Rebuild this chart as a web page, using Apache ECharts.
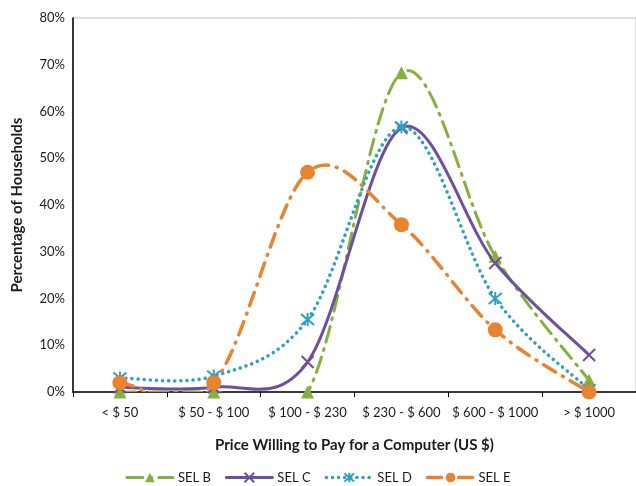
<!DOCTYPE html>
<html>
<head>
<meta charset="utf-8">
<script src="https://cdn.jsdelivr.net/npm/echarts@6/dist/echarts.min.js"></script>
<style>
  html, body { margin: 0; padding: 0; background: #ffffff; }
  #chart { width: 636px; height: 486px; }
</style>
</head>
<body>
<div id="chart"></div>
<script>
// Price brackets households would pay for a computer
const categories = ['< $ 50', '$ 50 - $ 100', '$ 100 - $ 230', '$ 230 - $ 600', '$ 600 - $ 1000', '> $ 1000'];

// Share of households (%) per socio-economic level
const selB = [0, 0, 0, 68.3, 29, 2.5];
const selC = [1, 1, 6.4, 56.5, 27.6, 7.9];
const selD = [3, 3.4, 15.5, 56.7, 20, 0.5];
const selE = [2, 2, 47, 35.8, 13.3, 0];

const yTicks = [0, 10, 20, 30, 40, 50, 60, 70, 80];

const FONT = 'Lato, "Open Sans", sans-serif';

const xMark = 'path://M0,0L10,10M10,0L0,10';
const starMark = 'path://M0,0L10,10M10,0L0,10M5,-1L5,11';

// Visual style of each level: colour, marker and stroke pattern
const styles = {
  'SEL B': { values: selB, color: '#86b03e', symbol: 'triangle', size: 13, width: 3, dash: [16, 7, 2, 7], hollow: false },
  'SEL C': { values: selC, color: '#6e4f9e', symbol: xMark, size: 12, width: 3, dash: null, hollow: true },
  'SEL D': { values: selD, color: '#2f9fc2', symbol: starMark, size: 13, width: 3.5, dash: [0.1, 6], hollow: true },
  'SEL E': { values: selE, color: '#e8832f', symbol: 'circle', size: 15, width: 3.5, dash: [14, 8, 1, 8], hollow: false }
};
const names = Object.keys(styles);

// Smoothed curve through the points (cubic Bezier, tangents from neighbours)
function curveRenderer(values, st) {
  return function (params, api) {
    if (params.dataIndex !== 0) return null;
    const pts = values.map((v, i) => api.coord([i, v]));
    const n = pts.length;
    let d = 'M' + pts[0][0] + ',' + pts[0][1];
    for (let i = 0; i < n - 1; i++) {
      const p0 = pts[Math.max(i - 1, 0)];
      const p1 = pts[i];
      const p2 = pts[i + 1];
      const p3 = pts[Math.min(i + 2, n - 1)];
      const c1x = p1[0] + (p2[0] - p0[0]) / 6;
      const c1y = p1[1] + (p2[1] - p0[1]) / 6;
      const c2x = p2[0] - (p3[0] - p1[0]) / 6;
      const c2y = p2[1] - (p3[1] - p1[1]) / 6;
      d += ' C' + c1x + ',' + c1y + ' ' + c2x + ',' + c2y + ' ' + p2[0] + ',' + p2[1];
    }
    return {
      type: 'path',
      shape: { pathData: d },
      style: {
        fill: null,
        stroke: st.color,
        lineWidth: st.width,
        lineDash: st.dash || null,
        lineCap: st.dash ? 'round' : 'butt',
        lineJoin: 'round'
      }
    };
  };
}

const curveSeries = names.map((name, k) => {
  const st = styles[name];
  return {
    name: name + ' curve',
    type: 'custom',
    coordinateSystem: 'cartesian2d',
    clip: true,
    data: st.values.map((v, i) => [i, v]),
    encode: { x: 0, y: 1 },
    renderItem: curveRenderer(st.values, st),
    silent: true,
    z: 2 + k
  };
});

const markerSeries = names.map((name, k) => {
  const st = styles[name];
  return {
    name: name,
    type: 'line',
    data: st.values,
    color: st.color,
    symbol: st.symbol,
    symbolSize: st.size,
    showSymbol: true,
    lineStyle: { color: st.color, width: st.width, type: st.dash || 'solid', cap: 'round', opacity: 0 },
    itemStyle: st.hollow
      ? { color: 'transparent', borderColor: st.color, borderWidth: 2 }
      : { color: st.color },
    z: 10 + k
  };
});

const chart = echarts.init(document.getElementById('chart'), null, { renderer: 'canvas' });

chart.setOption({
  animation: false,
  backgroundColor: '#ffffff',
  textStyle: { fontFamily: FONT },
  grid: {
    left: 73, top: 18, width: 567, height: 374,
    show: true, borderColor: '#bfbfbf', borderWidth: 1, backgroundColor: 'transparent'
  },
  legend: {
    top: 466,
    left: 'center',
    itemWidth: 46,
    itemHeight: 12,
    itemGap: 14,
    textStyle: { fontFamily: FONT, fontSize: 13, color: '#1a1a1a' },
    data: names.map(name => {
      const st = styles[name];
      return {
        name: name,
        lineStyle: { color: st.color, width: st.width, type: st.dash || 'solid', cap: 'round', opacity: 1 }
      };
    })
  },
  xAxis: {
    type: 'category',
    data: categories,
    boundaryGap: true,
    name: 'Price Willing to Pay for a Computer (US $)',
    nameLocation: 'middle',
    nameGap: 46,
    nameTextStyle: { fontFamily: FONT, fontSize: 15, fontWeight: 'bold', color: '#1a1a1a' },
    axisLine: { lineStyle: { color: '#000000', width: 1.5 } },
    axisTick: { show: true, length: 5, inside: false, lineStyle: { color: '#000000' } },
    axisLabel: { fontFamily: FONT, fontSize: 13, color: '#1a1a1a', margin: 14, interval: 0 },
    splitLine: { show: false }
  },
  yAxis: {
    type: 'value',
    min: yTicks[0],
    max: yTicks[yTicks.length - 1],
    interval: 10,
    name: 'Percentage of Households',
    nameLocation: 'middle',
    nameGap: 48,
    nameTextStyle: { fontFamily: FONT, fontSize: 15, fontWeight: 'bold', color: '#1a1a1a' },
    axisLine: { show: true, lineStyle: { color: '#000000', width: 1.5 } },
    axisTick: { show: false },
    axisLabel: { fontFamily: FONT, fontSize: 13, color: '#1a1a1a', margin: 8, formatter: v => v + '%' },
    splitLine: { show: false }
  },
  series: curveSeries.concat(markerSeries)
});
</script>
</body>
</html>
